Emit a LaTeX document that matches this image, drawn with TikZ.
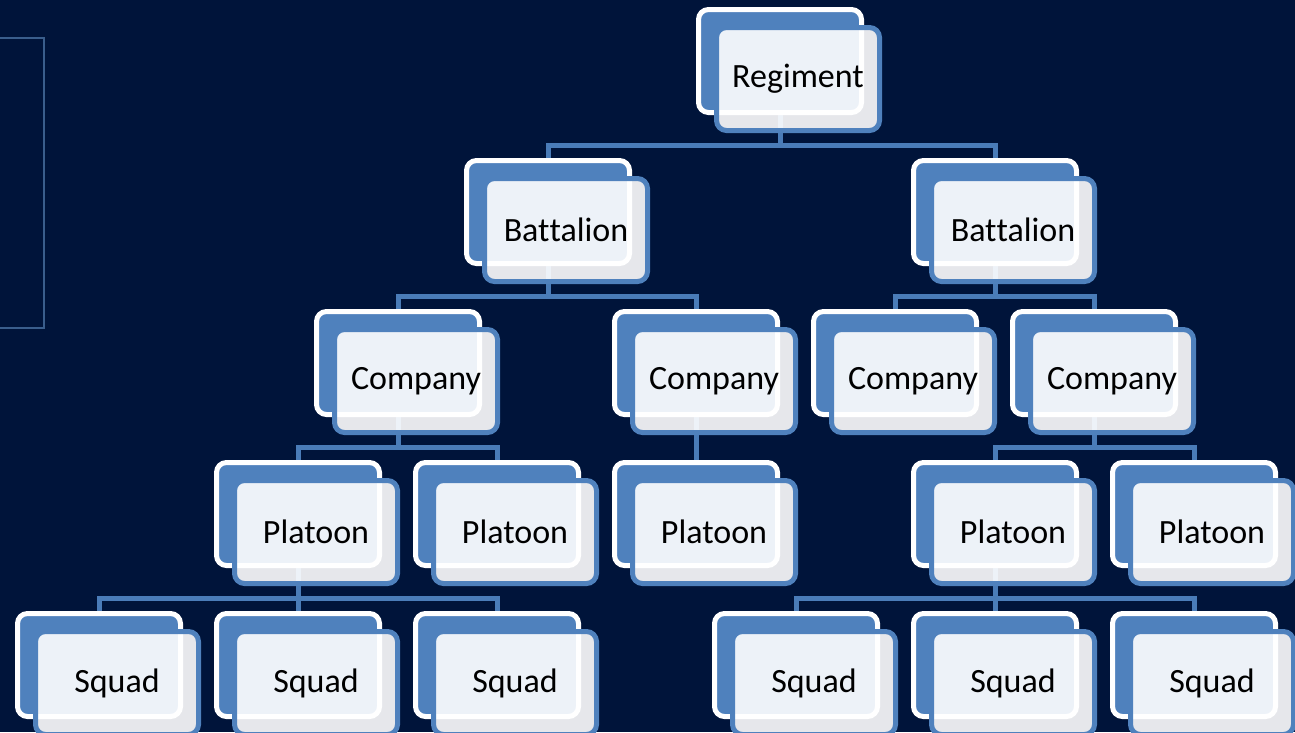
\documentclass[tikz,border=0pt]{standalone}
\usepackage{fontspec}
\setmainfont{Carlito}[Ligatures={NoCommon,NoContextual},RawFeature={-liga;-clig;-dlig;-calt}]
\definecolor{bgnavy}{RGB}{0,20,58}
\definecolor{boxblue}{RGB}{79,129,189}
\definecolor{linkblue}{RGB}{74,124,184}
\definecolor{frameblue}{RGB}{58,94,140}
\begin{document}
\begin{tikzpicture}[x=1pt,y=-1pt,
  backbox/.style={draw=white,fill=boxblue,line width=5pt,rounded corners=10pt,
    minimum width=163pt,minimum height=103pt,inner sep=0pt},
  frontbox/.style={draw=boxblue,fill=white,fill opacity=0.9,text opacity=1,line width=5pt,
    rounded corners=10pt,minimum width=163pt,minimum height=103pt,inner sep=0pt,
    font=\fontsize{34}{40}\selectfont,text=black},
  link/.style={draw=linkblue,line width=5pt}]
\useasboundingbox (0,0) rectangle (1295,732);
\fill[bgnavy] (0,0) rectangle (1295,732);
\draw[frameblue,line width=2pt] (-10,38) -- (44,38) -- (44,328) -- (-10,328);
% back box centres
\coordinate (Rc) at (780,61);
\coordinate (B1c) at (548,212);
\coordinate (B2c) at (995,212);
\coordinate (C1c) at (398,363);
\coordinate (C2c) at (696,363);
\coordinate (C3c) at (895,363);
\coordinate (C4c) at (1094,363);
\coordinate (P1c) at (298,514);
\coordinate (P2c) at (497,514);
\coordinate (P3c) at (696,514);
\coordinate (P4c) at (995,514);
\coordinate (P5c) at (1194,514);
\coordinate (S1c) at (99,665);
\coordinate (S2c) at (298,665);
\coordinate (S3c) at (497,665);
\coordinate (S4c) at (796,665);
\coordinate (S5c) at (995,665);
\coordinate (S6c) at (1194,665);
% links
\foreach \p/\c in {R/B1,R/B2,B1/C1,B1/C2,B2/C3,B2/C4,C1/P1,C1/P2,C2/P3,C4/P4,C4/P5,P1/S1,P1/S2,P1/S3,P4/S4,P4/S5,P4/S6}
  \draw[link] (\p c) |- ([yshift=67pt]\c c) -- (\c c);
% boxes
\foreach \n/\t in {R/Regiment,B1/Bat\kern0pt talion,B2/Bat\kern0pt talion,C1/Company,C2/Company,C3/Company,C4/Company,P1/Platoon,P2/Platoon,P3/Platoon,P4/Platoon,P5/Platoon,S1/Squad,S2/Squad,S3/Squad,S4/Squad,S5/Squad,S6/Squad}{
  \node[backbox] (\n b) at (\n c) {};
  \node[frontbox] (\n) at ([xshift=18pt,yshift=-18pt]\n c) {\t};
}
\end{tikzpicture}
\end{document}
